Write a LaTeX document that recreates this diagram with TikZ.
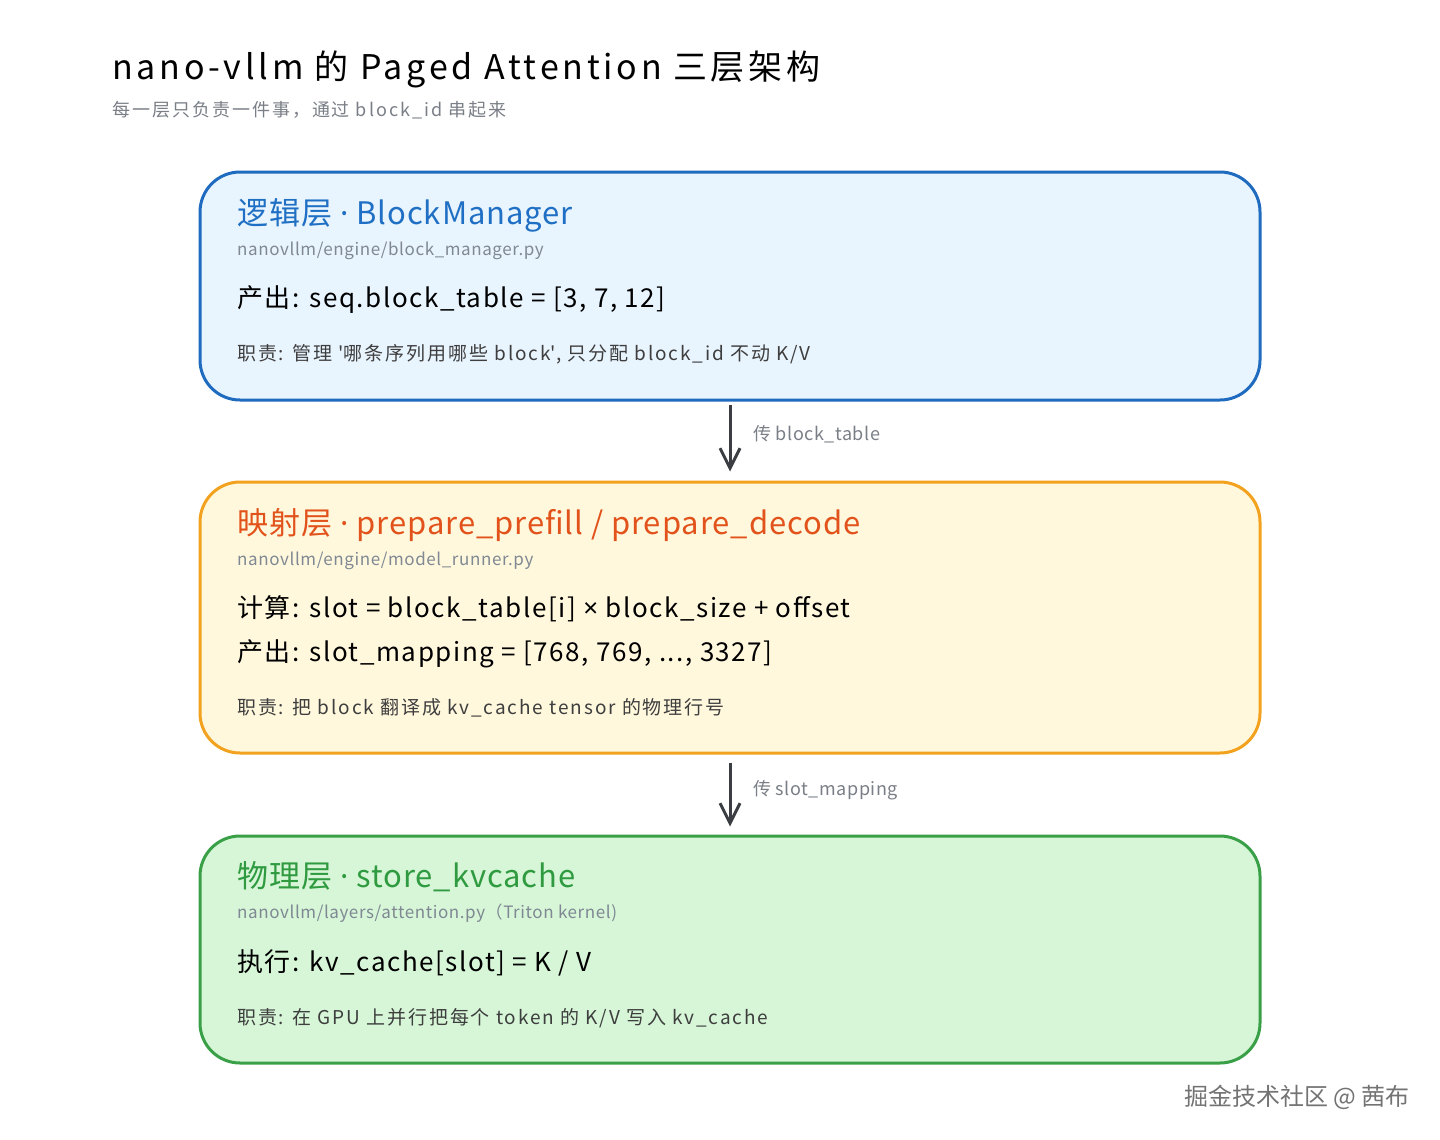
\documentclass[tikz,border=0pt]{standalone}
\usepackage{fontspec}
\setmainfont{Noto Sans CJK SC}
\newfontfamily\lat{Noto Sans}
\usetikzlibrary{arrows.meta}
\definecolor{bluebd}{HTML}{1E6BBF}
\definecolor{bluefill}{HTML}{E8F4FE}
\definecolor{bluetx}{HTML}{1F6FC4}
\definecolor{orbd}{HTML}{F2A21E}
\definecolor{orfill}{HTML}{FFF8DD}
\definecolor{ortx}{HTML}{E2521B}
\definecolor{grbd}{HTML}{3AA047}
\definecolor{grfill}{HTML}{D6F6D7}
\definecolor{grtx}{HTML}{2F9A3F}
\definecolor{pathgray}{HTML}{7F8893}
\definecolor{subgray}{HTML}{7A7F87}
\definecolor{dutygray}{HTML}{3E3E3E}
\definecolor{arrowgray}{HTML}{3A3D42}
\newcommand{\mydot}{{\lat\ ·\ }}
\tikzset{
  layerbox/.style={draw, line width=3pt, rounded corners=40pt, minimum width=1060pt, inner sep=0pt},
  ttl/.style={anchor=base west, inner sep=0pt, font=\fontsize{31}{36}\selectfont\addfontfeature{LetterSpace=3}},
  pth/.style={anchor=base west, inner sep=0pt, text=pathgray, font=\fontsize{17}{20}\selectfont\addfontfeature{LetterSpace=3.5}},
  main/.style={anchor=base west, inner sep=0pt, text=black, font=\fontsize{26}{30}\selectfont\addfontfeature{LetterSpace=6}},
  duty/.style={anchor=base west, inner sep=0pt, text=dutygray, font=\fontsize{19}{23}\selectfont\addfontfeature{LetterSpace=10}},
  flow/.style={draw=arrowgray, line width=3pt, -{Straight Barb[length=20pt,width=20pt,line width=3pt]}},
  flowlbl/.style={anchor=base west, inner sep=0pt, text=subgray, font=\fontsize{18}{22}\selectfont\addfontfeature{LetterSpace=3}},
}
\begin{document}
\begin{tikzpicture}[x=1pt,y=-1pt]
\useasboundingbox (0,0) rectangle (1440,1140);
\fill[white] (0,0) rectangle (1440,1140);
% title
\node[anchor=base west, inner sep=0pt, font=\fontsize{34}{40}\selectfont\addfontfeature{LetterSpace=11}] (title) at (112,80) {nano-vllm 的 Paged Attention 三层架构};
\node[anchor=base west, inner sep=0pt, text=subgray, font=\fontsize{18}{22}\selectfont\addfontfeature{LetterSpace=11}] (subtitle) at (112,116) {每一层只负责一件事，通过 block\_id 串起来};
% boxes
\node[layerbox, draw=bluebd, fill=bluefill, minimum height=228pt] (box1) at (730,286) {};
\node[layerbox, draw=orbd, fill=orfill, minimum height=271pt] (box2) at (730,617.5) {};
\node[layerbox, draw=grbd, fill=grfill, minimum height=227pt] (box3) at (730,949.5) {};
% box1
\node[ttl, text=bluetx] (t1) at (237,224) {逻辑层\mydot BlockManager};
\node[pth] (p1) at (237,255) {nanovllm/engine/block\_manager.py};
\node[main] (m1) at (237,307) {产出: seq.block\_table = [3, 7, 12]};
\node[duty] (d1) at (237,360) {职责: 管理 \textquotesingle 哪条序列用哪些 block\textquotesingle, 只分配 block\_id 不动 K/V};
% box2
\node[ttl, text=ortx] (t2) at (237,534) {映射层\mydot prepare\_prefill / prepare\_decode};
\node[pth] (p2) at (237,565) {nanovllm/engine/model\_runner.py};
\node[main] (m2a) at (237,617) {计算: slot = block\_table[i] {\lat ×} block\_size + offset};
\node[main] (m2b) at (237,661) {产出: slot\_mapping = [768, 769, ..., 3327]};
\node[duty] (d2) at (237,714) {职责: 把 block 翻译成 kv\_cache tensor 的物理行号};
% box3
\node[ttl, text=grtx] (t3) at (237,887) {物理层\mydot store\_kvcache};
\node[pth] (p3) at (237,918) {nanovllm/layers/attention.py（Triton kernel)};
\node[main] (m3) at (237,971) {执行: kv\_cache[slot] = K / V};
\node[duty] (d3) at (237,1024) {职责: 在 GPU 上并行把每个 token 的 K/V 写入 kv\_cache};
% arrows
\draw[flow, shorten <=3pt, shorten >=9pt] (box1.south) -- (box2.north);
\draw[flow, shorten <=8pt, shorten >=8pt] (box2.south) -- (box3.north);
\node[flowlbl] (l1) at (753,440) {传 block\_table};
\node[flowlbl] (l2) at (753,795) {传 slot\_mapping};
% watermark
\node[anchor=base east, inner sep=0pt, text=black!55, font=\fontsize{24}{28}\selectfont] (wm) at (1410,1105) {掘金技术社区 @ 茜布};
\end{tikzpicture}
\end{document}
